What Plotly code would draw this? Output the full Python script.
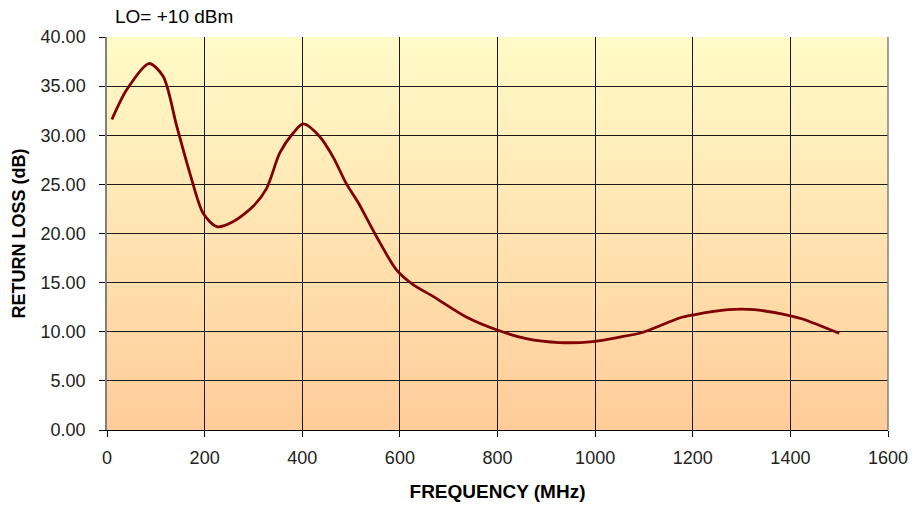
import base64
import plotly.graph_objects as go

# Data
freq_mhz = [10, 40, 86, 115, 143, 170, 197, 225, 258, 300, 327, 354, 381, 402,
            436, 463, 490, 514, 552, 593, 627, 668, 736, 798, 859, 927, 995,
            1050, 1098, 1173, 1200, 1272, 1326, 1398, 1425, 1500]
return_loss_db = [31.6, 34.6, 37.3, 36.0, 30.9, 26.1, 22.05, 20.7, 21.2, 22.8, 24.6,
                  28.2, 30.2, 31.15, 29.85, 27.8, 25.1, 23.2, 19.7, 16.3, 14.8, 13.6,
                  11.5, 10.2, 9.3, 8.9, 9.0, 9.45, 9.95, 11.4, 11.7, 12.25, 12.25,
                  11.65, 11.3, 9.84]

x_ticks = [0, 200, 400, 600, 800, 1000, 1200, 1400, 1600]
y_ticks = [0, 5, 10, 15, 20, 25, 30, 35, 40]
y_tick_labels = [f"{v:.2f}" for v in y_ticks]

FONT = "Liberation Sans, Arial, sans-serif"

svg = ('<svg xmlns="http://www.w3.org/2000/svg" width="100" height="100" preserveAspectRatio="none">'
       '<defs><linearGradient id="g" x1="0" y1="0" x2="0" y2="1">'
       '<stop offset="0" stop-color="#FFFBC8"/><stop offset="1" stop-color="#FFCC99"/>'
       '</linearGradient></defs><rect width="100" height="100" fill="url(#g)"/></svg>')
src = "data:image/svg+xml;base64," + base64.b64encode(svg.encode()).decode()

fig = go.Figure()
fig.add_trace(go.Scatter(
    x=freq_mhz, y=return_loss_db, mode="lines",
    line=dict(color="#800000", width=2.8, shape="spline", smoothing=0.8),
    hoverinfo="x+y", showlegend=False,
))

fig.add_layout_image(dict(
    source=src, xref="paper", yref="paper", x=0, y=1, sizex=1, sizey=1,
    sizing="stretch", layer="below", xanchor="left", yanchor="top",
))

fig.update_layout(
    width=916, height=508,
    margin=dict(l=107, r=28, t=37, b=78, autoexpand=False),
    paper_bgcolor="white",
    plot_bgcolor="rgba(0,0,0,0)",
    font=dict(family=FONT, size=18, color="#000000"),
    annotations=[dict(
        text="LO= +10 dBm", xref="paper", yref="paper", x=0.0077, y=1.0,
        xanchor="left", yanchor="middle", yshift=21, showarrow=False,
        font=dict(family=FONT, size=19, color="#000000"),
    )],
)

fig.update_xaxes(
    range=[0, 1600], tickvals=x_ticks, ticktext=[str(v) for v in x_ticks],
    showgrid=True, gridcolor="#1a1a1a", gridwidth=1,
    showline=True, linecolor="#000000", linewidth=1.2,
    ticks="outside", ticklen=6, tickcolor="#000000",
    ticklabelstandoff=5, automargin=False,
    zeroline=False, mirror=False,
    title=dict(text="<b>FREQUENCY (MHz)</b>", font=dict(family=FONT, size=19), standoff=17),
    tickfont=dict(family=FONT, size=18, color="#222222"),
)
fig.update_yaxes(
    range=[0, 40], tickvals=y_ticks, ticktext=y_tick_labels,
    showgrid=True, gridcolor="#1a1a1a", gridwidth=1,
    showline=True, linecolor="#808080", linewidth=1.5,
    ticks="outside", ticklen=6, tickcolor="#000000",
    ticklabelstandoff=10, automargin=False,
    zeroline=False,
    title=dict(text="<b>RETURN LOSS (dB)</b>", font=dict(family=FONT, size=18), standoff=10),
    tickfont=dict(family=FONT, size=18, color="#222222"),
)

# right border of plot area
fig.add_shape(type="line", xref="paper", yref="paper", x0=1, x1=1, y0=0, y1=1,
              line=dict(color="#808080", width=1.5), layer="above")

fig.write_html("out.html", config={"displayModeBar": False},
               post_script="document.body.style.margin='0px';")
